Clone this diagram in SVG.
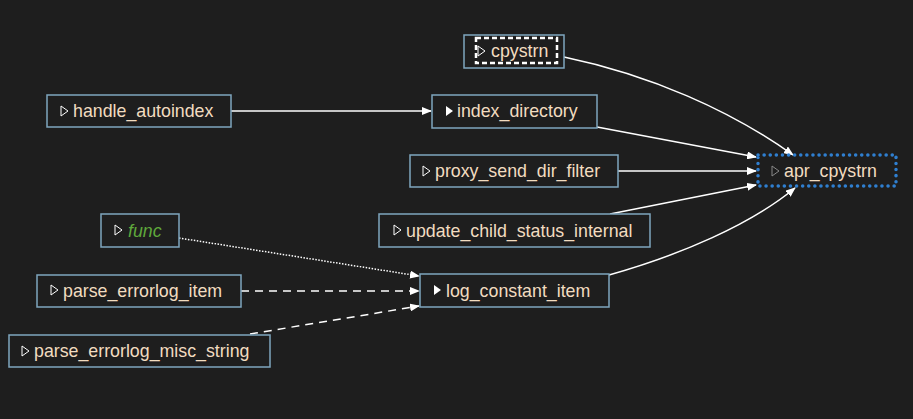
<svg xmlns="http://www.w3.org/2000/svg" width="913" height="419" viewBox="0 0 913 419">
<style>
.n{fill:#1e1e1e;stroke:#7fa6bf;stroke-width:1.5}
.t{font-family:"Liberation Sans",Arial,sans-serif;font-size:17.8px;fill:#f2dcc0}
.i{fill:none;stroke:#fff;stroke-width:1}
.f{fill:#fff}
.e{fill:none;stroke:#fff;stroke-width:1.5;marker-end:url(#a)}
</style>
<defs><marker id="a" markerWidth="10" markerHeight="8" refX="9" refY="4" orient="auto" markerUnits="userSpaceOnUse"><path d="M0,0L10,4L0,8z" fill="#fff"/></marker></defs>
<rect width="913" height="419" fill="#1e1e1e"/>
<g id="connectors">
<path class="e" d="M564,57C650,75 730,110 793,155"/>
<path class="e" d="M231,111L431,111"/>
<path class="e" d="M597,127L756,157"/>
<path class="e" d="M618,171L756,171"/>
<path class="e" d="M610,214L756,185"/>
<path class="e" d="M609,275C680,255 750,225 795,188"/>
<path class="e" d="M179,238L419,276" stroke-dasharray="1.5,1.5" stroke-width="1.2"/>
<path class="e" d="M241,291L419,291" stroke-dasharray="8,6"/>
<path class="e" d="M250,334L419,306" stroke-dasharray="8,6"/>
</g>
<g id="cpystrn"><rect class="n" x="464" y="35" width="100" height="33"/><rect x="476" y="38" width="81" height="25" fill="none" stroke="#fff" stroke-width="2.5" stroke-dasharray="5,3"/><path class="i" d="M478,46L485,51L478,56z"/><text class="t" x="491" y="57">cpystrn</text></g>
<g id="handle_autoindex"><rect class="n" x="47" y="95" width="184" height="32"/><path class="i" d="M61,106L68,111L61,116z"/><text class="t" x="73" y="117">handle_autoindex</text></g>
<g id="index_directory"><rect class="n" x="432" y="95" width="165" height="33"/><path class="f" d="M446,106L453,111L446,116z"/><text class="t" x="457" y="117">index_directory</text></g>
<g id="proxy_send_dir_filter"><rect class="n" x="410" y="155" width="208" height="32"/><path class="i" d="M423,166L430,171L423,176z"/><text class="t" x="435" y="177">proxy_send_dir_filter</text></g>
<g id="apr_cpystrn"><rect x="758" y="155" width="138" height="31" fill="none" stroke="#2f7fd0" stroke-width="3.5" stroke-dasharray="0.1,6" stroke-linecap="round"/><path d="M772,166L779,171L772,176z" fill="none" stroke="#888"/><text class="t" x="784" y="177">apr_cpystrn</text></g>
<g id="update_child_status_internal"><rect class="n" x="379" y="214" width="271" height="33"/><path class="i" d="M394,225L401,230L394,235z"/><text class="t" x="406" y="237">update_child_status_internal</text></g>
<g id="func"><rect class="n" x="101" y="214" width="78" height="33"/><path class="i" d="M115,225L122,230L115,235z"/><text class="t" x="128" y="237" font-style="italic" style="fill:#5fa83c">func</text></g>
<g id="parse_errorlog_item"><rect class="n" x="37" y="275" width="204" height="32"/><path class="i" d="M51,285L58,290L51,295z"/><text class="t" x="63" y="297">parse_errorlog_item</text></g>
<g id="log_constant_item"><rect class="n" x="420" y="274" width="189" height="33"/><path class="f" d="M434,285L441,290L434,295z"/><text class="t" x="446" y="297">log_constant_item</text></g>
<g id="parse_errorlog_misc_string"><rect class="n" x="9" y="335" width="261" height="32"/><path class="i" d="M22,346L29,351L22,356z"/><text class="t" x="34" y="357">parse_errorlog_misc_string</text></g>
</svg>
